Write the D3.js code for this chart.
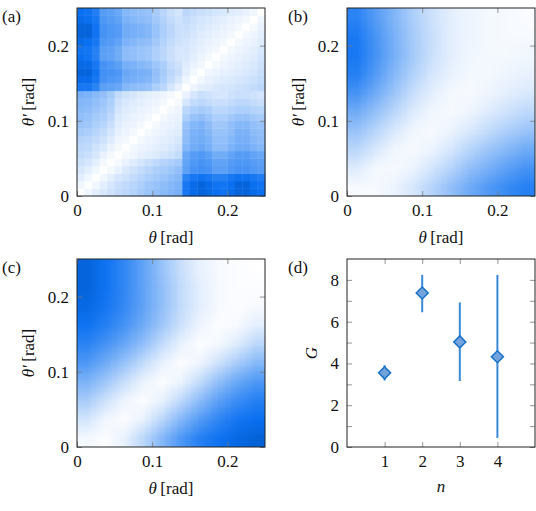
<!DOCTYPE html>
<html><head><meta charset="utf-8">
<script src="https://cdn.jsdelivr.net/npm/d3@7"></script>
<style>
html,body{margin:0;padding:0;background:#fff;}
svg{display:block;}
</style></head><body>
<svg id="chart" width="536" height="511"></svg>
<script>
// ---------- DATA ----------
// Panel (a): 25x25 matrix, rows = theta' index (0 = bottom), cols = theta index, cell width 0.01 rad
const matA = [
 [0,.05,.1,.14,.18,.22,.25,.28,.33,.37,.4,.43,.46,.5, .85,.92,.95,.93,.9,.88,.92,.95,.95,.92,.9],
 [.05,0,.05,.1,.15,.2,.23,.26,.3,.35,.38,.42,.45,.48, .85,.92,.95,.92,.88,.87,.9,.95,.95,.9,.88],
 [.1,.05,0,.05,.1,.15,.18,.22,.26,.3,.33,.37,.4,.44, .78,.85,.88,.85,.8,.8,.85,.88,.88,.85,.82],
 [.14,.1,.05,0,.04,.08,.14,.18,.22,.26,.3,.33,.36,.4, .6,.68,.7,.68,.6,.6,.65,.68,.68,.65,.62],
 [.18,.15,.1,.04,0,.04,.08,.12,.16,.2,.24,.27,.3,.33, .58,.65,.68,.65,.58,.58,.62,.65,.65,.62,.6],
 [.22,.2,.15,.08,.04,0,.04,.06,.09,.11,.13,.16,.18,.22, .55,.62,.65,.6,.52,.52,.58,.62,.62,.58,.55],
 [.25,.23,.18,.14,.08,.04,0,.04,.06,.08,.1,.12,.14,.18, .45,.52,.55,.5,.42,.42,.48,.52,.52,.48,.45],
 [.28,.26,.22,.18,.12,.06,.04,0,.04,.06,.08,.1,.12,.15, .42,.5,.52,.48,.4,.4,.45,.5,.5,.45,.42],
 [.33,.3,.26,.22,.16,.09,.06,.04,0,.04,.06,.08,.1,.12, .4,.48,.5,.45,.38,.38,.42,.48,.48,.42,.4],
 [.37,.35,.3,.26,.2,.11,.08,.06,.04,0,.04,.06,.08,.1, .38,.45,.48,.42,.35,.35,.4,.45,.45,.4,.38],
 [.4,.38,.33,.3,.24,.13,.1,.08,.06,.04,0,.04,.06,.08, .3,.38,.4,.36,.3,.3,.34,.38,.38,.34,.32],
 [.43,.42,.37,.33,.27,.16,.12,.1,.08,.06,.04,0,.04,.06, .25,.3,.32,.3,.25,.25,.28,.3,.3,.28,.26],
 [.46,.45,.4,.36,.3,.18,.14,.12,.1,.08,.06,.04,0,.04, .15,.22,.25,.22,.2,.2,.22,.25,.25,.22,.2],
 [.5,.48,.44,.4,.33,.22,.18,.15,.12,.1,.08,.06,.04,0, .08,.15,.2,.18,.15,.15,.18,.2,.2,.18,.16],
 [.85,.85,.78,.6,.58,.55,.45,.42,.4,.38,.3,.25,.15,.08, 0,.06,.1,.12,.14,.15,.16,.18,.2,.22,.25],
 [.92,.92,.85,.68,.65,.62,.52,.5,.48,.45,.38,.3,.22,.15, .06,0,.05,.08,.1,.12,.13,.15,.17,.19,.22],
 [.95,.95,.88,.7,.68,.65,.55,.52,.5,.48,.4,.32,.25,.2, .1,.05,0,.05,.07,.09,.1,.12,.14,.16,.2],
 [.93,.92,.85,.68,.65,.6,.5,.48,.45,.42,.36,.3,.22,.18, .12,.08,.05,0,.04,.06,.08,.1,.12,.14,.18],
 [.9,.88,.8,.6,.58,.52,.42,.4,.38,.35,.3,.25,.2,.15, .14,.1,.07,.04,0,.04,.06,.08,.1,.12,.16],
 [.88,.87,.8,.6,.58,.52,.42,.4,.38,.35,.3,.25,.2,.15, .15,.12,.09,.06,.04,0,.04,.06,.08,.1,.14],
 [.92,.9,.85,.65,.62,.58,.48,.45,.42,.4,.34,.28,.22,.18, .16,.13,.1,.08,.06,.04,0,.04,.06,.08,.12],
 [.95,.95,.88,.68,.65,.62,.52,.5,.48,.45,.38,.3,.25,.2, .18,.15,.12,.1,.08,.06,.04,0,.04,.06,.1],
 [.95,.95,.88,.68,.65,.62,.52,.5,.48,.45,.38,.3,.25,.2, .2,.17,.14,.12,.1,.08,.06,.04,0,.04,.08],
 [.92,.9,.85,.65,.62,.58,.48,.45,.42,.4,.34,.28,.22,.18, .22,.19,.16,.14,.12,.1,.08,.06,.04,0,.05],
 [.9,.88,.82,.62,.6,.55,.45,.42,.4,.38,.32,.26,.2,.16, .25,.22,.2,.18,.16,.14,.12,.1,.08,.05,0]
];
// Panels (b),(c): 10x10 grids sampled at cell centres (0.025 rad cells), rows bottom -> top
const matB = [
 [.03,.03,.07,.15,.27,.4,.53,.64,.73,.8],
 [.12,.04,.03,.07,.16,.27,.4,.5,.6,.68],
 [.25,.14,.05,.03,.07,.15,.26,.36,.45,.53],
 [.38,.26,.14,.05,.03,.07,.14,.22,.3,.37],
 [.52,.39,.25,.12,.05,.03,.06,.12,.18,.24],
 [.68,.52,.36,.2,.1,.04,.03,.06,.1,.14],
 [.8,.63,.44,.28,.15,.08,.04,.04,.06,.08],
 [.85,.68,.5,.33,.19,.1,.05,.04,.04,.05],
 [.84,.67,.49,.32,.2,.1,.06,.04,.03,.03],
 [.78,.62,.46,.3,.18,.1,.06,.04,.03,.02]
];
const matC = [
 [.04,.01,.08,.25,.45,.65,.8,.88,.93,.96],
 [.16,.05,.01,.08,.25,.45,.62,.76,.86,.9],
 [.32,.18,.06,.01,.08,.24,.42,.6,.72,.8],
 [.48,.35,.2,.07,.01,.07,.22,.4,.55,.65],
 [.65,.52,.38,.22,.08,.01,.06,.18,.32,.45],
 [.78,.68,.55,.4,.22,.08,.01,.04,.12,.25],
 [.88,.8,.68,.52,.35,.18,.06,.01,.03,.1],
 [.93,.86,.74,.58,.4,.22,.1,.03,.01,.03],
 [.95,.88,.75,.58,.4,.22,.1,.03,.01,.01],
 [.95,.88,.75,.58,.38,.2,.08,.03,.01,0]
];
// Panel (d)
const nVals = [1, 2, 3, 4];
const gVals = [3.55, 7.37, 5.03, 4.32];
const gLow  = [3.18, 6.45, 3.16, 0.43];
const gHigh = [3.92, 8.24, 6.92, 8.24];

const thetaTicks = [0, 0.1, 0.2];
const thetaTickLabels = ["0", "0.1", "0.2"];
const nTicks = [1, 2, 3, 4];
const nTickLabels = ["1", "2", "3", "4"];
const gTicks = [0,1,2,3,4,5,6,7,8];
const gTickLabels = ["0","","2","","4","","6","","8"];
const panelLabels = ["(a)", "(b)", "(c)", "(d)"];

// ---------- DRAWING ----------
const FF = '"Liberation Serif", "DejaVu Serif", "Noto Serif", "FreeSerif", "Nimbus Roman", "Times New Roman", Times, serif';
const svg = d3.select("#chart").attr("font-family", FF);
const S = 188;
const panels = [{x0:77,y0:8},{x0:347,y0:8},{x0:77,y0:259},{x0:347,y0:259}];
const FONT = 17;
const color = d3.scaleLinear().domain([0, 0.9, 1]).range(["#ffffff", "#0a70f2", "#0058c4"]).clamp(true);

function frameAndTicks(g, x, y, xt, xl, yt, yl) {
  g.append("g").attr("transform", `translate(0,${S})`)
    .call(d3.axisBottom(x).tickValues(xt).tickSize(-5).tickPadding(8).tickFormat((d,i)=>xl[i]));
  g.append("g").call(d3.axisTop(x).tickValues(xt).tickSize(-5).tickFormat(""));
  g.append("g").call(d3.axisLeft(y).tickValues(yt).tickSize(-5).tickPadding(8).tickFormat((d,i)=>yl[i]));
  g.append("g").attr("transform", `translate(${S},0)`)
    .call(d3.axisRight(y).tickValues(yt).tickSize(-5).tickFormat(""));
  g.selectAll(".domain").remove();
  g.selectAll("g").attr("font-family", FF).attr("font-size", FONT);
  g.selectAll(".tick line").attr("stroke", "#777").attr("stroke-width", 0.8);
  g.selectAll(".tick text").attr("fill", "#111");
  g.append("rect").attr("x", 0).attr("y", 0).attr("width", S).attr("height", S)
    .attr("fill", "none").attr("stroke", "#222").attr("stroke-width", 1);
}

function thetaLabels(g) {
  const tx = g.append("text").attr("x", S/2).attr("y", S + 47).attr("text-anchor", "middle")
    .attr("font-size", FONT).attr("font-family", FF).attr("fill", "#111");
  tx.append("tspan").attr("font-style", "italic").text("θ");
  tx.append("tspan").text("\u2009[rad]");
  const ty = g.append("text").attr("transform", `translate(-43,${S/2}) rotate(-90)`).attr("text-anchor", "middle")
    .attr("font-size", FONT).attr("font-family", FF).attr("fill", "#111");
  ty.append("tspan").attr("font-style", "italic").text("θ′");
  ty.append("tspan").text("\u2009[rad]");
}

function smoothMap(g, x, y, mat) {
  const n = mat.length;
  const cv = document.createElement("canvas");
  cv.width = n; cv.height = n;
  const ctx = cv.getContext("2d");
  const img = ctx.createImageData(n, n);
  for (let r = 0; r < n; r++) for (let c = 0; c < n; c++) {
    const col = d3.rgb(color(mat[r][c]));
    const k = ((n - 1 - r) * n + c) * 4;
    img.data[k] = col.r; img.data[k+1] = col.g; img.data[k+2] = col.b; img.data[k+3] = 255;
  }
  ctx.putImageData(img, 0, 0);
  g.append("image").attr("href", cv.toDataURL())
    .attr("x", x(0)).attr("y", y(0.25)).attr("width", x(0.25) - x(0)).attr("height", y(0) - y(0.25))
    .attr("preserveAspectRatio", "none");
}

// Panel (a)
{
  const p = panels[0];
  const g = svg.append("g").attr("transform", `translate(${p.x0},${p.y0})`);
  const x = d3.scaleLinear().domain([0, 0.25]).range([0, S]);
  const y = d3.scaleLinear().domain([0, 0.25]).range([S, 0]);
  const cells = [];
  matA.forEach((row, j) => row.forEach((v, i) => cells.push({i, j, v})));
  g.append("g").selectAll("rect").data(cells).join("rect")
    .attr("x", d => x(d.i * 0.01)).attr("y", d => y((d.j + 1) * 0.01))
    .attr("width", x(0.01) - x(0) + 0.4).attr("height", y(0) - y(0.01) + 0.4)
    .attr("fill", d => color(d.v));
  frameAndTicks(g, x, y, thetaTicks, thetaTickLabels, thetaTicks, thetaTickLabels);
  thetaLabels(g);
}
// Panels (b), (c)
[[1, matB], [2, matC]].forEach(([k, mat]) => {
  const p = panels[k];
  const g = svg.append("g").attr("transform", `translate(${p.x0},${p.y0})`);
  const x = d3.scaleLinear().domain([0, 0.25]).range([0, S]);
  const y = d3.scaleLinear().domain([0, 0.25]).range([S, 0]);
  smoothMap(g, x, y, mat);
  frameAndTicks(g, x, y, thetaTicks, thetaTickLabels, thetaTicks, thetaTickLabels);
  thetaLabels(g);
});
// Panel (d)
{
  const p = panels[3];
  const g = svg.append("g").attr("transform", `translate(${p.x0},${p.y0})`);
  const x = d3.scaleLinear().domain([0, 5]).range([0, S]);
  const y = d3.scaleLinear().domain([0, 9]).range([S, 0]);
  frameAndTicks(g, x, y, nTicks, nTickLabels, gTicks, gTickLabels);
  g.append("g").selectAll("line").data(nVals).join("line")
    .attr("x1", d => x(d)).attr("x2", d => x(d))
    .attr("y1", (d, i) => y(gLow[i])).attr("y2", (d, i) => y(gHigh[i]))
    .attr("stroke", "#3a8ad6").attr("stroke-width", 2);
  g.append("g").selectAll("path").data(nVals).join("path")
    .attr("d", d3.symbol(d3.symbolSquare, 72))
    .attr("transform", (d, i) => `translate(${x(d)},${y(gVals[i])}) rotate(45)`)
    .attr("fill", "#74a3dc").attr("stroke", "#1872c8").attr("stroke-width", 1.5);
  g.append("text").attr("x", S/2).attr("y", S + 45).attr("text-anchor", "middle").attr("fill", "#111")
    .attr("font-size", FONT).attr("font-family", FF).attr("font-style", "italic").text("n");
  g.append("text").attr("transform", `translate(-30,${S/2}) rotate(-90)`).attr("text-anchor", "middle").attr("fill", "#111")
    .attr("font-size", FONT).attr("font-family", FF).attr("font-style", "italic").text("G");
}
// Panel letters
panels.forEach((p, k) => {
  svg.append("text").attr("x", k % 2 === 0 ? 2 : 288).attr("y", p.y0 + 14).attr("fill", "#111")
    .attr("font-size", FONT).attr("font-family", FF).text(panelLabels[k]);
});
</script>
</body></html>
